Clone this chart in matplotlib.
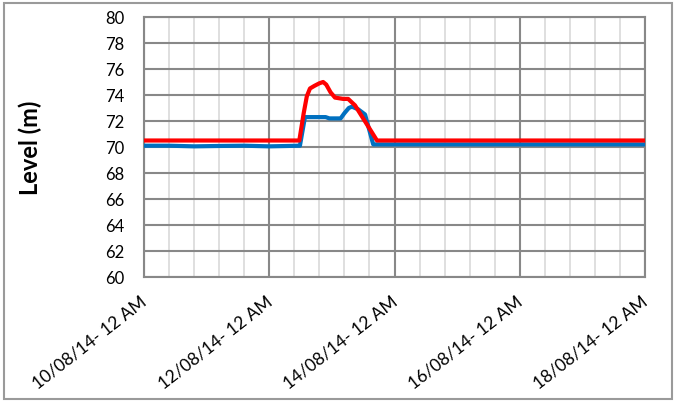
import matplotlib
matplotlib.use("Agg")
import matplotlib.pyplot as plt
from matplotlib.patches import Rectangle
from matplotlib.ticker import MultipleLocator, FixedLocator, FixedFormatter
from matplotlib.transforms import ScaledTranslation

# Time in days (day-of-month, August 2014)
blue_t = [10.0, 10.4, 10.8, 11.2, 11.6, 12.0, 12.3, 12.49, 12.57, 12.75, 12.90, 12.96, 13.14,
          13.20, 13.27, 13.32, 13.42, 13.53, 13.66, 14.0, 15.0, 16.0, 17.0, 18.0]
blue_v = [70.1, 70.1, 70.05, 70.08, 70.1, 70.05, 70.08, 70.1, 72.3, 72.3, 72.3, 72.2, 72.2,
          72.6, 73.0, 73.1, 72.9, 72.5, 70.2, 70.2, 70.2, 70.2, 70.2, 70.2]

red_t = [10.0, 12.48, 12.55, 12.60, 12.65, 12.72, 12.80, 12.86, 12.91, 12.98, 13.05, 13.18,
         13.26, 13.37, 13.72, 18.0]
red_v = [70.5, 70.5, 72.6, 73.9, 74.5, 74.7, 74.9, 75.0, 74.8, 74.2, 73.8, 73.7,
         73.7, 73.2, 70.5, 70.5]

tick_pos = [10, 12, 14, 16, 18]
tick_labels = ["10/08/14- 12 AM", "12/08/14- 12 AM", "14/08/14- 12 AM",
               "16/08/14- 12 AM", "18/08/14- 12 AM"]

plt.rcParams['font.family'] = ['Lato', 'DejaVu Sans']

W, H = 676, 402
fig = plt.figure(figsize=(W / 100, H / 100), dpi=100)
ax = fig.add_axes([144 / W, 1 - 278 / H, (645 - 144) / W, (278 - 18) / H])

major_grid = "#888888"
minor_grid = "#d9d9d9"

ax.plot(blue_t, blue_v, color="#0070C0", lw=3.0, solid_joinstyle="round", zorder=3)
ax.plot(red_t, red_v, color="#FF0000", lw=3.0, solid_joinstyle="round", zorder=4)

ax.set_xlim(10, 18)
ax.set_ylim(60, 80)
ax.yaxis.set_major_locator(MultipleLocator(2))
ax.xaxis.set_major_locator(FixedLocator(tick_pos))
ax.xaxis.set_major_formatter(FixedFormatter(tick_labels))
ax.xaxis.set_minor_locator(MultipleLocator(0.4))

ax.grid(which="major", axis="both", color=major_grid, lw=1.5, zorder=1)
ax.grid(which="minor", axis="x", color=minor_grid, lw=1.2, zorder=0)
ax.set_axisbelow(True)

for s in ax.spines.values():
    s.set_color(major_grid)
    s.set_linewidth(1.5)

ax.tick_params(axis="y", which="major", length=0, labelsize=12, pad=14)
ax.tick_params(axis="x", which="major", length=0, labelsize=12.5, pad=11)
ax.tick_params(axis="x", which="minor", length=0)

shift = ScaledTranslation(-4 / 100, 0, fig.dpi_scale_trans)
for lab in ax.get_xticklabels():
    lab.set_rotation(38)
    lab.set_ha("right")
    lab.set_va("top")
    lab.set_rotation_mode("anchor")
    lab.set_transform(lab.get_transform() + shift)

fig.text(30 / W, 1 - 148 / H, "Level (m)", rotation=90, fontsize=17, fontweight="bold",
         ha="center", va="center")

fig.patches.append(Rectangle((4 / W, 2 / H), 668 / W, 396 / H, transform=fig.transFigure,
                             fill=False, edgecolor="#9a9a9a", lw=1.5))

fig.savefig("out.png", dpi=100)
